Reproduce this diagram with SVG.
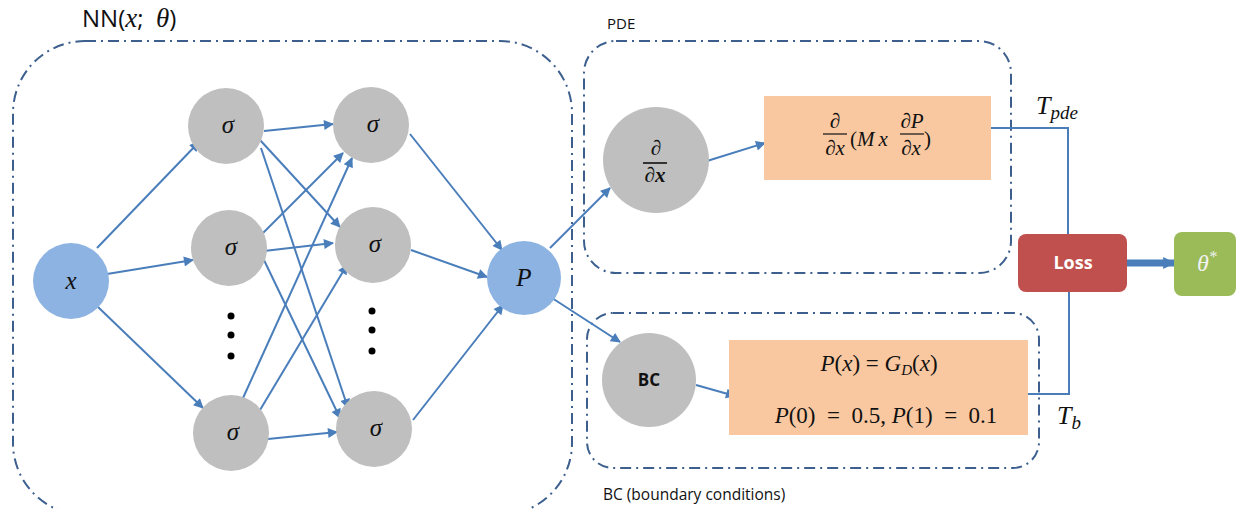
<svg xmlns="http://www.w3.org/2000/svg" width="1245" height="509" viewBox="0 0 1245 509">
<defs>
<marker id="ah" viewBox="0 0 10 10" refX="9" refY="5" markerWidth="13" markerHeight="10" markerUnits="userSpaceOnUse" orient="auto">
<path d="M0,0 L10,5 L0,10 z" fill="#4A7EBB"/>
</marker>
<marker id="ahBig" viewBox="0 0 10 10" refX="9" refY="5" markerWidth="12" markerHeight="18" markerUnits="userSpaceOnUse" orient="auto">
<path d="M0,0 L10,5 L0,10 z" fill="#4A7EBB"/>
</marker>
<style>
.frame{fill:none;stroke:#3C5F8E;stroke-width:2;stroke-dasharray:11 5 2 5}
.neuron{fill:#BFBFBF}
.io{fill:#8DB3E2}
.orange{fill:#FAC8A0}
.arr{stroke:#4A7EBB;stroke-width:2;fill:none;marker-end:url(#ah)}
.wire{stroke:#4A7EBB;stroke-width:2;fill:none}
.m{font-family:"Liberation Serif","DejaVu Serif",serif;font-style:italic;fill:#111}
.mr{font-family:"Liberation Serif","DejaVu Serif",serif;font-style:normal;fill:#111}
.sans{font-family:"Open Sans","Liberation Sans",sans-serif;fill:#111}
.sig{font-size:25px;text-anchor:middle}
.dot{fill:#000}
</style>
</defs>

<g id="frames">
<rect id="nn-frame" class="frame" x="13" y="41" width="559" height="474" rx="72"/>
<rect id="pde-frame" class="frame" x="584" y="41" width="427" height="232" rx="32"/>
<rect id="bc-frame" class="frame" x="587" y="313" width="452" height="155" rx="26"/>
</g>

<g id="labels">
<text x="82" y="27" class="sans" font-size="24" xml:space="preserve">NN(<tspan class="m" font-size="27">x</tspan>;  <tspan class="m" font-size="27">θ</tspan>)</text>
<text x="607" y="29" class="sans" font-size="15">PDE</text>
<text x="603" y="500" class="sans" font-size="15.5">BC (boundary conditions)</text>
<text x="1036" y="114" class="m" font-size="26">T<tspan font-size="19" dy="5">pde</tspan></text>
<text x="1057" y="424" class="m" font-size="26">T<tspan font-size="19" dy="5">b</tspan></text>
</g>

<g id="connectors">
<line class="arr" x1="97" y1="248" x2="199" y2="142"/>
<line class="arr" x1="107" y1="274" x2="193" y2="260"/>
<line class="arr" x1="98" y1="307" x2="203" y2="408"/>

<line class="arr" x1="264" y1="131" x2="333" y2="124"/>
<line class="arr" x1="260" y1="140" x2="340" y2="227"/>
<line class="arr" x1="261" y1="148" x2="348" y2="408"/>

<line class="arr" x1="263" y1="233" x2="343" y2="153"/>
<line class="arr" x1="264" y1="251" x2="333" y2="243"/>
<line class="arr" x1="263" y1="258" x2="340" y2="418"/>

<line class="arr" x1="243" y1="398" x2="352" y2="158"/>
<line class="arr" x1="260" y1="410" x2="347" y2="265"/>
<line class="arr" x1="268" y1="439" x2="337" y2="432"/>

<line class="arr" x1="410" y1="134" x2="502" y2="250"/>
<line class="arr" x1="411" y1="250" x2="487" y2="277"/>
<line class="arr" x1="413" y1="420" x2="503" y2="305"/>

<line class="arr" x1="550" y1="248" x2="610" y2="188"/>
<line class="arr" x1="552" y1="298" x2="620" y2="342"/>
<line class="arr" x1="707" y1="161" x2="765" y2="143"/>
<line class="arr" x1="696" y1="385" x2="735" y2="396"/>

<polyline class="wire" points="989,128 1068,128 1068,234"/>
<polyline class="wire" points="1069,292 1069,394 1027,394"/>
<line x1="1127" y1="263" x2="1174" y2="263" stroke="#4A7EBB" stroke-width="7" marker-end="url(#ahBig)"/>
</g>

<g id="node-x"><circle class="io" cx="71" cy="281" r="38"/><text x="71" y="289" class="m sig">x</text></g>

<g id="node-s11"><circle class="neuron" cx="226" cy="126" r="38"/><text x="228" y="133" class="m sig">σ</text></g>
<g id="node-s12"><circle class="neuron" cx="229" cy="248" r="38"/><text x="231" y="255" class="m sig">σ</text></g>
<g id="node-s13"><circle class="neuron" cx="231" cy="433" r="38"/><text x="233" y="440" class="m sig">σ</text></g>
<g id="dots1"><circle class="dot" cx="231" cy="316" r="3.5"/><circle class="dot" cx="231" cy="335" r="3.5"/><circle class="dot" cx="231" cy="356" r="3.5"/></g>

<g id="node-s21"><circle class="neuron" cx="371" cy="125" r="38"/><text x="373" y="132" class="m sig">σ</text></g>
<g id="node-s22"><circle class="neuron" cx="373" cy="245" r="38"/><text x="375" y="252" class="m sig">σ</text></g>
<g id="node-s23"><circle class="neuron" cx="374" cy="429" r="38"/><text x="376" y="436" class="m sig">σ</text></g>
<g id="dots2"><circle class="dot" cx="372" cy="311" r="3.5"/><circle class="dot" cx="372" cy="330" r="3.5"/><circle class="dot" cx="372" cy="351" r="3.5"/></g>

<g id="node-P"><circle class="io" cx="524" cy="278" r="37"/><text x="524" y="286" class="m sig">P</text></g>

<g id="node-ddx"><circle class="neuron" cx="656" cy="160" r="53"/>
<text x="656" y="155" class="m" font-size="21" font-weight="bold" text-anchor="middle">∂</text>
<line x1="643" y1="163" x2="667" y2="163" stroke="#111" stroke-width="1.6"/>
<text x="655" y="182" class="m" font-size="21" font-weight="bold" text-anchor="middle">∂x</text>
</g>

<g id="node-BC"><circle class="neuron" cx="649" cy="380" r="47"/><text x="649" y="386" class="sans" font-size="17" font-weight="bold" text-anchor="middle">BC</text></g>

<g id="node-pde-eq"><rect class="orange" x="764" y="96" width="227" height="84"/>
<text x="835" y="128" class="m" font-size="21" text-anchor="middle">∂</text>
<line x1="823" y1="134" x2="847" y2="134" stroke="#111" stroke-width="1.2"/>
<text x="835" y="155" class="m" font-size="21" text-anchor="middle">∂x</text>
<text x="850" y="146" class="m" font-size="21"><tspan class="mr">(</tspan>M<tspan dx="4">x</tspan></text>
<text x="912" y="128" class="m" font-size="21" text-anchor="middle">∂P</text>
<line x1="900" y1="134" x2="924" y2="134" stroke="#111" stroke-width="1.2"/>
<text x="911" y="155" class="m" font-size="21" text-anchor="middle">∂x</text>
<text x="924" y="146" class="mr" font-size="21">)</text>
</g>

<g id="node-bc-eq"><rect class="orange" x="729" y="340" width="299" height="95"/>
<text x="879" y="371" class="m" font-size="23" text-anchor="middle" xml:space="preserve">P<tspan class="mr">(</tspan>x<tspan class="mr">) = </tspan>G<tspan font-size="15" dy="4">D</tspan><tspan class="mr" dy="-4">(</tspan>x<tspan class="mr">)</tspan></text>
<text x="886" y="423" class="m" font-size="23" text-anchor="middle" xml:space="preserve">P<tspan class="mr">(0)  =  0.5, </tspan>P<tspan class="mr">(1)  =  0.1</tspan></text>
</g>

<g id="node-loss"><rect x="1018" y="234" width="109" height="58" rx="8" fill="#C0504D"/><text x="1073" y="269" class="sans" font-size="18" font-weight="bold" style="fill:#fff" text-anchor="middle">Loss</text></g>

<g id="node-theta"><rect x="1174" y="232" width="62" height="64" rx="8" fill="#9BBB59"/><text x="1197" y="271" class="m" font-size="24" style="fill:#F2F2F2">θ<tspan font-size="16" dy="-9">*</tspan></text></g>
</svg>
